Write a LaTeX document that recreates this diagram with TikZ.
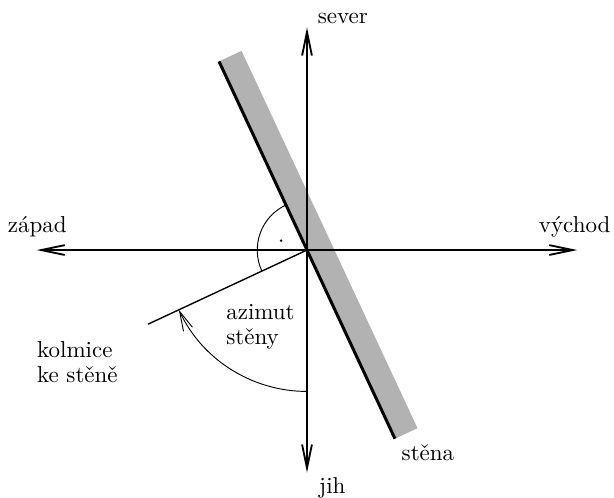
\documentclass[tikz,border=0pt]{standalone}
\usepackage{tikz}
\usetikzlibrary{arrows.meta,calc}
\colorlet{stenagray}{black!30}

\begin{document}
\begin{tikzpicture}[scale=1,>={Straight Barb[length=3.6mm,width=1.5mm]}]
\useasboundingbox (-4.69,-3.78) rectangle (4.69,3.82);
\coordinate (O) at (0,0);
\coordinate (W) at (-4.13,0);  \coordinate (E) at (4.13,0);
\coordinate (S) at (0,-3.4);   \coordinate (N) at (0,3.4);
\coordinate (A) at (115:3.18); \coordinate (B) at (-65:3.18);
\coordinate (P) at (205:2.68);
\fill[stenagray] (A) -- (B) -- ($(B)+(25:0.38)$) -- ($(A)+(25:0.38)$) -- cycle;
\draw[thick,<->] (W) -- (E);
\draw[thick,<->] (S) -- (N);
\draw[line width=1.3pt] (A) -- (B);
\draw[semithick] (O) -- (P);
\draw (115:0.76) arc (115:205:0.76);
\fill (160:0.42) circle (0.6pt);
\draw[-{Straight Barb[length=3mm,width=1.5mm]}] (270:2.16) arc (270:205:2.16);
\node[anchor=base west,inner sep=0pt] (sever) at (0.16,3.455) {sever};
\node[anchor=base west,inner sep=0pt] (jih) at (0.18,-3.715) {jih};
\node[anchor=base,inner sep=0pt] (zapad) at (-4.12,0.275) {západ};
\node[anchor=base,inner sep=0pt] (vychod) at (4.09,0.275) {východ};
\node[anchor=north west,inner sep=0pt,align=left,font=\fontsize{10}{11}\selectfont] (kolmice) at (-4.13,-1.39) {kolmice\\ke stěně};
\node[anchor=north west,inner sep=0pt,align=left,font=\fontsize{10}{11}\selectfont] (azimut) at (-1.24,-0.82) {azimut\\stěny};
\node[anchor=base west,inner sep=0pt] (stena) at (1.44,-3.22) {stěna};
\end{tikzpicture}
\end{document}
